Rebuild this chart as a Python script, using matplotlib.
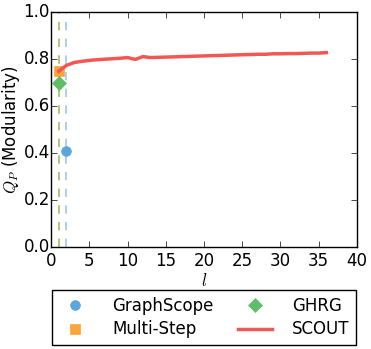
import matplotlib
matplotlib.use('Agg')
import matplotlib.pyplot as plt

plt.style.use('classic')

# SCOUT curve
scout_l = list(range(1, 37))
scout_q = [0.748, 0.773, 0.785, 0.790, 0.794, 0.797, 0.799, 0.801, 0.803, 0.806,
           0.798, 0.810, 0.806, 0.807, 0.808, 0.809, 0.810, 0.811, 0.812, 0.813,
           0.814, 0.815, 0.816, 0.817, 0.818, 0.819, 0.820, 0.820, 0.822, 0.822,
           0.823, 0.823, 0.824, 0.825, 0.825, 0.827]

graphscope_l, graphscope_q = [2], [0.41]
multistep_l, multistep_q = [1], [0.75]
ghrg_l, ghrg_q = [1], [0.70]

blue = '#5DA5DA'
orange = '#FAA43A'
green = '#60BD68'
red = '#F15854'

fig = plt.figure(figsize=(3.71, 3.49), dpi=100, facecolor='white')
ax = fig.add_axes([0.138, 0.291, 0.824, 0.675])

ax.axvline(graphscope_l[0], color=blue, ls='--', lw=1.2, alpha=0.6)
ax.axvline(multistep_l[0], color=orange, ls='--', lw=1.2, alpha=0.6)
ax.axvline(ghrg_l[0], color=green, ls='--', lw=1.2, alpha=0.6)

ax.plot(graphscope_l, graphscope_q, 'o', color=blue, mec=blue, ms=7, label='GraphScope')
ax.plot(multistep_l, multistep_q, 's', color=orange, mec=orange, ms=7, label='Multi-Step')
ax.plot(ghrg_l, ghrg_q, 'D', color=green, mec=green, ms=7, label='GHRG')
ax.plot(scout_l, scout_q, '-', color=red, lw=2.5, label='SCOUT')

ax.set_xlim(0, 40)
ax.set_ylim(0, 1.0)
ax.set_xticks(range(0, 41, 5))
ax.set_yticks([0.0, 0.2, 0.4, 0.6, 0.8, 1.0])
ax.set_xlabel('$l$', fontsize=12, labelpad=2)
ax.set_ylabel('$Q_P$ (Modularity)', fontsize=12, labelpad=1)
ax.tick_params(axis='y', labelsize=12, pad=1)
ax.tick_params(axis='x', labelsize=12, pad=3)

ax.legend(loc='upper center', bbox_to_anchor=(0.5, -0.145), ncol=2,
          numpoints=1, fontsize=12, frameon=True, fancybox=False,
          columnspacing=1.5, handletextpad=1.2, labelspacing=0.35)

fig.savefig('out.png', dpi=100, facecolor='white')
